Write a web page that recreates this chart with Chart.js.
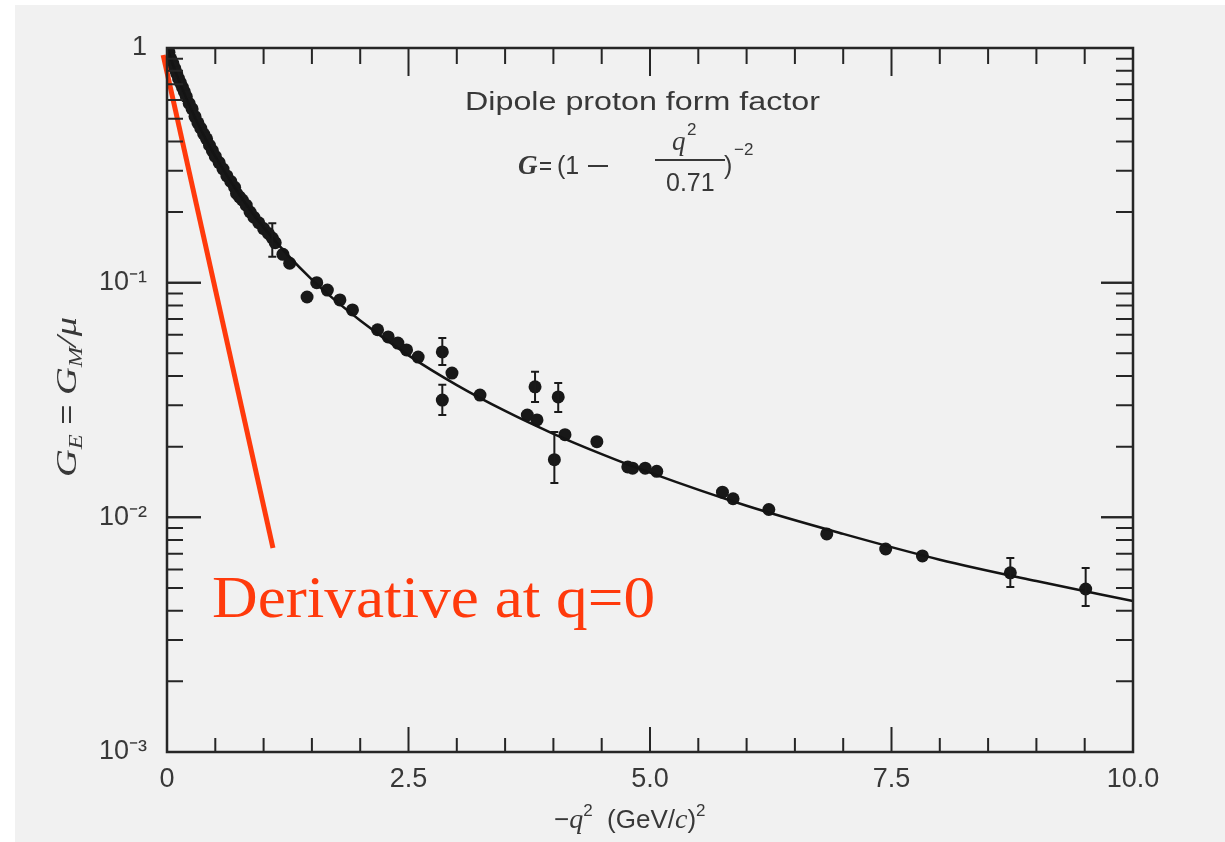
<!DOCTYPE html>
<html>
<head>
<meta charset="utf-8">
<script src="https://cdn.jsdelivr.net/npm/chart.js@4/dist/chart.umd.min.js"></script>
<style>
  html, body { margin: 0; padding: 0; background: #ffffff; }
  #wrap { width: 1225px; height: 842px; }
</style>
</head>
<body>
<div id="wrap"><canvas id="ff" width="1225" height="842"></canvas></div>
<script>
// dipole curve
const curveQ = [0, 0.05, 0.1, 0.2, 0.3, 0.4, 0.5, 0.75, 1, 1.5, 2, 2.5, 3, 3.5, 4, 4.5, 5, 6, 7, 8, 9, 10];
const curveG = [1, 0.875, 0.77, 0.61, 0.495, 0.41, 0.345, 0.237, 0.172, 0.103, 0.069, 0.049, 0.0366, 0.0284, 0.0227, 0.0186, 0.0155, 0.0112, 0.0085, 0.0066, 0.00535, 0.0044];

// measured points
const pointQ = [0.02, 0.04, 0.06, 0.08, 0.1, 0.12, 0.14, 0.16, 0.18, 0.2, 0.23, 0.26, 0.29, 0.32, 0.35, 0.38, 0.41, 0.44, 0.47, 0.5,
  0.54, 0.58, 0.62, 0.66, 0.7, 0.72, 0.75, 0.78, 0.82, 0.86, 0.9, 0.95, 1.0, 1.05, 1.09, 1.12, 1.2, 1.27,
  1.45, 1.55, 1.66, 1.79, 1.92, 2.18, 2.29, 2.39, 2.48, 2.6,
  2.85, 2.85, 2.95, 3.24, 3.73, 3.81, 3.83, 4.01, 4.05, 4.12, 4.45, 4.77, 4.82, 4.95, 5.07,
  5.75, 5.86, 6.23, 6.83, 7.44, 7.82, 8.73, 9.51];
const pointG = [0.96, 0.9, 0.86, 0.82, 0.78, 0.74, 0.71, 0.68, 0.65, 0.62, 0.58, 0.55, 0.51, 0.48, 0.455, 0.43, 0.41, 0.385, 0.365, 0.345,
  0.325, 0.305, 0.285, 0.27, 0.255, 0.24, 0.232, 0.225, 0.214, 0.2, 0.19, 0.18, 0.17, 0.162, 0.155, 0.148, 0.132, 0.121,
  0.0869, 0.1, 0.093, 0.0844, 0.0765, 0.063, 0.0587, 0.0553, 0.0517, 0.0482,
  0.0507, 0.0316, 0.0412, 0.0332, 0.0273, 0.036, 0.026, 0.0176, 0.0326, 0.0225, 0.021, 0.0164, 0.0162, 0.0162, 0.0157,
  0.0128, 0.012, 0.0108, 0.0085, 0.00733, 0.00685, 0.0058, 0.00495];

// error bars
const errQ = [1.09, 2.85, 2.85, 3.81, 4.05, 4.01, 8.73, 9.51];
const errLo = [0.129, 0.0446, 0.0273, 0.031, 0.0281, 0.014, 0.00505, 0.00419];
const errHi = [0.179, 0.0581, 0.0367, 0.0417, 0.0374, 0.0231, 0.00671, 0.00609];

// red tangent at q = 0
const tangentQ = [-0.04, 1.097];
const tangentG = [0.934, 0.0074];

const xTicks = [0, 2.5, 5.0, 7.5, 10.0];
const yDecades = [1, 0.1, 0.01, 0.001];
const yLabels = ['1', '10⁻¹', '10⁻²', '10⁻³'];

const INK = '#262626';
const TXT = '#383838';
const RED = '#ff3a0c';
const SER = '"Liberation Serif", "Times New Roman", serif';
const SAN = '"Liberation Sans", Arial, sans-serif';

function runsWidth(ctx, runs) {
  let w = 0;
  runs.forEach(r => { ctx.font = r.f; w += ctx.measureText(r.t).width; });
  return w;
}
function drawRuns(ctx, runs, x, y, center) {
  let cx = center ? x - runsWidth(ctx, runs) / 2 : x;
  runs.forEach(r => {
    ctx.font = r.f;
    ctx.fillText(r.t, cx, y + (r.dy || 0));
    cx += ctx.measureText(r.t).width;
  });
}

const framePlugin = {
  id: 'frame',
  beforeDraw(chart) {
    const ctx = chart.ctx;
    ctx.save();
    ctx.fillStyle = '#ffffff';
    ctx.fillRect(0, 0, chart.width, chart.height);
    ctx.fillStyle = '#f1f1f1';
    ctx.fillRect(15, 5, chart.width - 15, chart.height - 5);
    ctx.restore();
  },
  afterDatasetsDraw(chart) {
    const ctx = chart.ctx;
    const xs = chart.scales.x, ys = chart.scales.y;
    ctx.save();
    ctx.strokeStyle = '#1a1a1a';
    ctx.lineWidth = 2;
    errQ.forEach((q, i) => {
      const px = xs.getPixelForValue(q);
      const p1 = ys.getPixelForValue(errLo[i]);
      const p2 = ys.getPixelForValue(errHi[i]);
      ctx.beginPath();
      ctx.moveTo(px, p1); ctx.lineTo(px, p2);
      ctx.moveTo(px - 4, p1); ctx.lineTo(px + 4, p1);
      ctx.moveTo(px - 4, p2); ctx.lineTo(px + 4, p2);
      ctx.stroke();
    });
    ctx.restore();
  },
  afterDraw(chart) {
    const ctx = chart.ctx;
    const a = chart.chartArea;
    const xs = chart.scales.x, ys = chart.scales.y;
    ctx.save();
    // box
    ctx.strokeStyle = INK;
    ctx.lineWidth = 2.5;
    ctx.strokeRect(a.left, a.top, a.right - a.left, a.bottom - a.top);
    // x ticks, bottom and top, inward
    ctx.lineWidth = 2;
    for (let k = 0; k <= 20; k++) {
      const px = xs.getPixelForValue(k * 0.5);
      const major = k % 5 === 0;
      ctx.beginPath();
      ctx.moveTo(px, a.bottom); ctx.lineTo(px, a.bottom - (major ? 25 : 14));
      ctx.moveTo(px, a.top); ctx.lineTo(px, a.top + (major ? 28 : 16));
      ctx.stroke();
    }
    // y ticks, left and right, inward
    [0.001, 0.01, 0.1].forEach(d => {
      for (let m = 1; m <= 10; m++) {
        const py = ys.getPixelForValue(d * m);
        const major = m === 1 || m === 10;
        ctx.beginPath();
        ctx.moveTo(a.left, py); ctx.lineTo(a.left + (major ? 34 : 16), py);
        ctx.moveTo(a.right, py); ctx.lineTo(a.right - (major ? 32 : 17), py);
        ctx.stroke();
      }
    });

    ctx.fillStyle = TXT;
    ctx.textBaseline = 'alphabetic';
    ctx.textAlign = 'left';
    // header
    ctx.font = '25px ' + SAN;
    let t = 'Dipole proton form factor';
    let w = ctx.measureText(t).width;
    ctx.save();
    ctx.translate(465, 110);
    ctx.scale(355 / w, 1);
    ctx.fillText(t, 0, 0);
    ctx.restore();

    // formula G = (1 - q^2/0.71)^-2
    ctx.font = 'italic bold 27px ' + SER;
    ctx.fillText('G', 518, 174);
    ctx.fillRect(540, 162, 11, 2);
    ctx.fillRect(540, 168, 11, 2);
    ctx.font = '25px ' + SAN;
    ctx.fillText('(1', 557, 174);
    ctx.fillRect(588, 165, 20, 2);
    ctx.font = 'italic 27px ' + SER;
    ctx.fillText('q', 672, 150);
    ctx.font = '17px ' + SAN;
    ctx.fillText('2', 687, 135);
    ctx.font = '25px ' + SAN;
    ctx.fillText('0.71', 666, 191);
    ctx.fillText(')', 724, 174);
    ctx.font = '17px ' + SAN;
    ctx.fillText('−2', 734, 155);
    ctx.fillRect(655, 159, 70, 2);

    // x title
    drawRuns(ctx, [
      { t: '−', f: '26px ' + SAN },
      { t: 'q', f: 'italic 28px ' + SER },
      { t: '2', f: '17px ' + SAN, dy: -12 },
      { t: '  (GeV/', f: '26px ' + SAN },
      { t: 'c', f: 'italic 28px ' + SER },
      { t: ')', f: '26px ' + SAN },
      { t: '2', f: '17px ' + SAN, dy: -12 }
    ], 554, 828, false);

    // y title, rotated
    ctx.save();
    ctx.translate(76, 397);
    ctx.rotate(-Math.PI / 2);
    const yRuns = [
      { t: 'G', f: 'italic 30px ' + SER },
      { t: 'E', f: 'italic 19px ' + SER, dy: 6 },
      { t: ' = ', f: '27px ' + SAN },
      { t: 'G', f: 'italic 30px ' + SER },
      { t: 'M', f: 'italic 19px ' + SER, dy: 6 },
      { t: '/μ', f: 'italic 30px ' + SER }
    ];
    const yw = runsWidth(ctx, yRuns);
    ctx.scale(160 / yw, 1);
    drawRuns(ctx, yRuns, 0, 0, true);
    ctx.restore();

    // red annotation
    ctx.fillStyle = RED;
    ctx.font = '60px ' + SER;
    t = 'Derivative at q=0';
    w = ctx.measureText(t).width;
    ctx.save();
    ctx.translate(212, 617);
    ctx.scale(443 / w, 1);
    ctx.fillText(t, 0, 0);
    ctx.restore();
    ctx.restore();
  }
};

const xy = (xa, ya) => xa.map((v, i) => ({ x: v, y: ya[i] }));

new Chart(document.getElementById('ff'), {
  type: 'scatter',
  data: {
    datasets: [
      {
        type: 'line',
        data: xy(tangentQ, tangentG),
        borderColor: RED,
        borderWidth: 5,
        pointRadius: 0,
        clip: false
      },
      {
        type: 'line',
        data: xy(curveQ, curveG),
        borderColor: '#141414',
        borderWidth: 2.5,
        pointRadius: 0,
        cubicInterpolationMode: 'monotone'
      },
      {
        data: xy(pointQ, pointG),
        backgroundColor: '#181818',
        borderColor: '#181818',
        pointRadius: 6.5,
        borderWidth: 0
      }
    ]
  },
  options: {
    responsive: false,
    animation: false,
    layout: { padding: { top: 48, right: 92, left: 0, bottom: 0 } },
    plugins: { legend: { display: false }, tooltip: { enabled: false } },
    scales: {
      x: {
        type: 'linear',
        min: 0,
        max: 10,
        afterFit: s => { s.height = 90; },
        afterBuildTicks: s => { s.ticks = xTicks.map(v => ({ value: v })); },
        grid: { display: false, drawTicks: false },
        border: { display: false },
        ticks: {
          padding: 11,
          color: TXT,
          font: { family: SAN, size: 27 },
          callback: v => (v === 0 ? '0' : Number(v).toFixed(1))
        }
      },
      y: {
        type: 'logarithmic',
        min: 0.001,
        max: 1,
        afterFit: s => { s.width = 167; },
        afterBuildTicks: s => { s.ticks = yDecades.map(v => ({ value: v })); },
        grid: { display: false, drawTicks: false },
        border: { display: false },
        ticks: {
          padding: 20,
          color: TXT,
          font: { family: SAN, size: 27 },
          callback: v => {
            const i = yDecades.findIndex(d => Math.abs(d - v) < d * 1e-6);
            return i >= 0 ? yLabels[i] : '';
          }
        }
      }
    }
  },
  plugins: [framePlugin]
});
</script>
</body>
</html>
